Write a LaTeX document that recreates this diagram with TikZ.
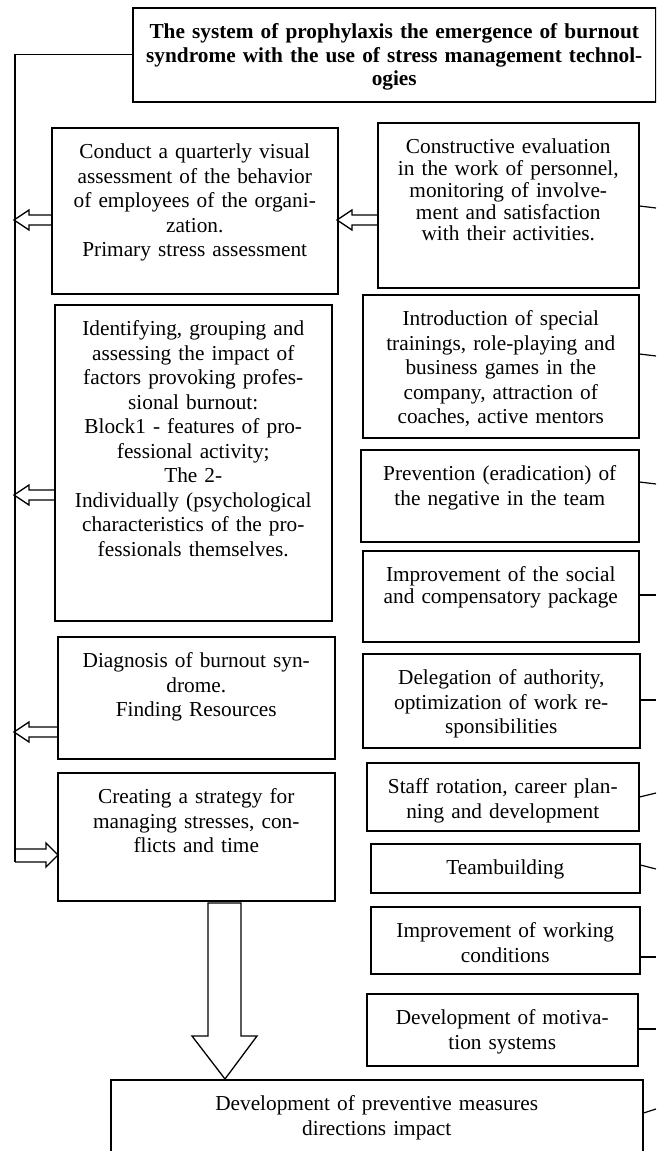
\documentclass[tikz,border=0pt]{standalone}
\usepackage{fontspec}
\setmainfont{Liberation Serif}
\begin{document}
\begin{tikzpicture}[x=1pt, y=-1pt, line width=1.2pt,
    box/.style={draw, line width=1.5pt, anchor=north west, align=center, inner xsep=0pt, inner ysep=0pt,
        text height=31pt, font=\fontsize{21.3}{24.5}\selectfont},
    tight/.style={font=\fontsize{21.3}{21.8}\selectfont},
    blk/.style={draw, line width=1.3pt, line join=miter}]
    \clip (0,0) rectangle (656,1151);
    \node[box, text width=523pt, text depth=63pt, font=\fontsize{21.3}{23.5}\selectfont\bfseries] (title) at (132,7)
        {The system of prophylaxis the emergence of burnout\\ syndrome with the use of stress management technol-\\ ogies};
    \node[box, text width=286pt, text depth=135pt] (conduct) at (51,127)
        {Conduct a quarterly visual\\ assessment of the behavior\\ of employees of the organi-\\ zation.\\ Primary stress assessment};
    \node[box, text width=277pt, text depth=285pt] (ident) at (54,304)
        {Identifying, grouping and\\ assessing the impact of\\ factors provoking profes-\\ sional burnout:\\ Block1 - features of pro-\\ fessional activity;\\ The 2-\\ Individually (psychological\\ characteristics of the pro-\\ fessionals themselves.};
    \node[box, text width=277pt, text depth=91pt] (diag) at (57,636)
        {Diagnosis of burnout syn-\\ drome.\\ Finding Resources};
    \node[box, text width=277pt, text depth=97pt] (create) at (57,772)
        {Creating a strategy for\\ managing stresses, con-\\ flicts and time};
    \node[box, tight, text width=261pt, text depth=134pt] (constr) at (377,122)
        {Constructive evaluation\\ in the work of personnel,\\ monitoring of involve-\\ ment and satisfaction\\ with their activities.};
    \node[box, text width=276pt, text depth=112pt] (intro) at (362,294)
        {Introduction of special\\ trainings, role-playing and\\ business games in the\\ company, attraction of\\ coaches, active mentors};
    \node[box, text width=278pt, text depth=61pt] (prevent) at (360,449)
        {Prevention (eradication) of\\ the negative in the team};
    \node[box, tight, text width=276pt, text depth=60pt] (social) at (362,550)
        {Improvement of the social\\ and compensatory package};
    \node[box, text width=277pt, text depth=63pt] (deleg) at (362,653)
        {Delegation of authority,\\ optimization of work re-\\ sponsibilities};
    \node[box, text width=272pt, text depth=37pt] (staff) at (366,762)
        {Staff rotation, career plan-\\ ning and development};
    \node[box, text width=269pt, text depth=18pt] (team) at (370,843) {Teambuilding};
    \node[box, text width=269pt, text depth=36pt] (working) at (370,906)
        {Improvement of working\\ conditions};
    \node[box, text width=271pt, text depth=41pt] (motiv) at (366,993)
        {Development of motiva-\\ tion systems};
    \node[box, text width=532pt, text depth=70pt] (measures) at (110,1079)
        {Development of preventive measures\\ directions impact};
    \coordinate (spine) at (15,862);
    \draw (title.west) -| (spine);
    \foreach \n/\y/\s in {conduct/220/22, ident/495/25, diag/732/28, constr/220/25}
        \draw[blk] (\n.west |- 0,\y) ++(0,-5) -- ++(-\s,0) -- ++(0,-5) -- ++(-15,10) -- ++(15,10) -- ++(0,-5) -- ++(\s,0);
    \draw[blk] (spine) -- ++(31,0) -- ++(0,5) -- ++(12,-12) -- ++(-12,-12) -- ++(0,6) -- ++(-31,0);
    \draw[blk] (measures.north -| 225,0) -- ++(-33,-43) -- ++(16,0) -- ++(0,-133) -- ++(33,0) -- ++(0,133) -- ++(16,0) -- cycle;
    \foreach \n/\ya/\yb in {constr/206/208, intro/354/356, prevent/482/484, social/595/595, deleg/700/700,
        staff/797/793, team/865/869, working/957/957, motiv/1029/1029, measures/1113/1109} {
        \coordinate (\n-r) at (656,\yb);
        \draw (\n.east |- 0,\ya) -- (\n-r);
    }
\end{tikzpicture}
\end{document}
